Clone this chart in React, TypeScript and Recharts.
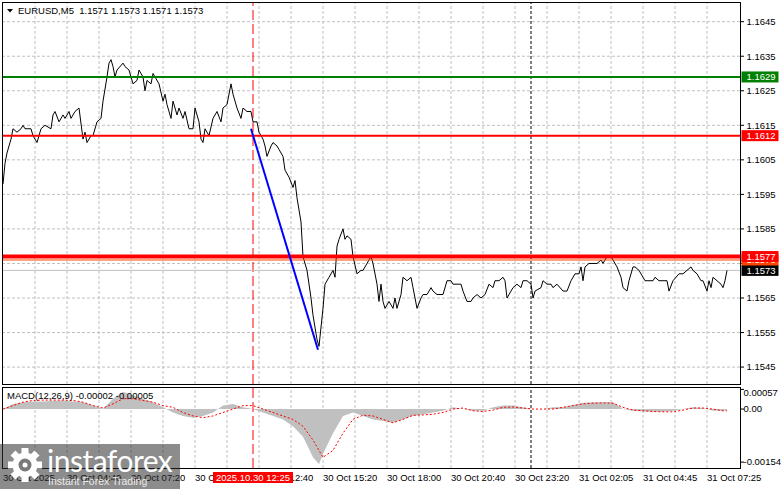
import React from 'react';
import { ComposedChart, Line, Area, XAxis, YAxis, ReferenceLine } from 'recharts';

// EURUSD M5 with MACD(12,26,9) sub-window, MT4 style

const symbolTitle = 'EURUSD,M5  1.1571 1.1573 1.1571 1.1573';
const macdTitle = 'MACD(12,26,9) -0.00002 -0.00005';

// bar index (5 min bars, 0 = first bar on screen) and close price
const priceBar = [
  0, 1, 2, 4, 5, 7, 9, 10, 11, 14, 15, 17, 19, 21, 24, 25, 26, 28, 30, 31, 33, 34, 36, 38, 40, 41, 42, 44, 45, 47, 49,
  50, 52, 53, 54, 55, 56, 57, 60, 61, 63, 65, 67, 68, 70, 71, 72, 74, 75, 76, 78, 80, 81, 82, 84, 85, 87, 88, 90, 91, 93, 95, 96, 98, 99,
  100, 101, 103, 105, 107, 109, 110, 112, 114, 115, 117, 119, 120, 122, 124, 125, 127, 128, 130, 131, 132, 134, 135, 137, 138, 140, 141, 143, 145, 146, 147, 149,
  150, 152, 154, 155, 157, 158, 160, 161, 163, 165, 166, 167, 168, 170, 171, 172, 174, 175, 177, 179, 180, 182, 184, 185, 187, 188, 189, 190, 191, 193, 195, 196, 197, 199,
  200, 202, 204, 205, 206, 207, 209, 210, 212, 214, 215, 217, 220, 222, 224, 225, 227, 229, 230, 232, 234, 235, 237, 239, 241, 243, 245, 246, 248,
  250, 251, 252, 254, 255, 257, 259, 260, 262, 264, 265, 266, 269, 270, 272, 274, 275, 277, 280, 282, 284, 286, 288, 289, 290, 291, 293, 295, 297, 299,
  300, 302, 304, 305, 307, 309, 310, 312, 313, 315, 316, 318, 320, 321, 323, 325, 326, 328, 330, 332, 333, 335, 338, 340, 342, 344, 345, 347, 349,
  350, 352, 353, 354, 355, 357, 359, 360, 361, 362,
];
const priceClose = [
  1.1598, 1.1604, 1.1607, 1.1611, 1.1614, 1.1613, 1.1614, 1.1615, 1.1614, 1.1614, 1.1612, 1.161, 1.1614, 1.1615, 1.1614, 1.1618, 1.1619, 1.1616, 1.1618, 1.1617, 1.1619, 1.1617, 1.1619, 1.162, 1.1611, 1.1613, 1.161, 1.1612, 1.1612, 1.1616, 1.1617,
  1.1622, 1.1629, 1.1633, 1.1634, 1.1632, 1.1629, 1.1631, 1.1633, 1.1632, 1.1631, 1.1627, 1.1628, 1.1631, 1.1629, 1.1625, 1.1628, 1.1627, 1.163, 1.1629, 1.1627, 1.1622, 1.1624, 1.1621, 1.1617, 1.1622, 1.1618, 1.162, 1.1617, 1.1619, 1.1614, 1.1614, 1.162, 1.1616, 1.1611,
  1.161, 1.1614, 1.1612, 1.1617, 1.1619, 1.1616, 1.162, 1.1621, 1.1627, 1.1624, 1.162, 1.1617, 1.162, 1.1619, 1.1619, 1.1616, 1.1616, 1.1613, 1.1611, 1.1609, 1.1606, 1.1609, 1.161, 1.1609, 1.1608, 1.1606, 1.1602, 1.16, 1.1597, 1.1599, 1.1594, 1.1587,
  1.1577, 1.1573, 1.1565, 1.156, 1.1553, 1.1551, 1.1562, 1.1569, 1.1571, 1.1573, 1.1571, 1.158, 1.1582, 1.1585, 1.1582, 1.1583, 1.1582, 1.1577, 1.1572, 1.1573, 1.1573, 1.1575, 1.1577, 1.1575, 1.1569, 1.1564, 1.1569, 1.1564, 1.1562, 1.1564, 1.1562, 1.1565, 1.1562, 1.1566,
  1.1571, 1.157, 1.1571, 1.1568, 1.1565, 1.1562, 1.1565, 1.1566, 1.1566, 1.1568, 1.1567, 1.1566, 1.1566, 1.157, 1.157, 1.1569, 1.1569, 1.1569, 1.1567, 1.1564, 1.1564, 1.1565, 1.1566, 1.1565, 1.1566, 1.1569, 1.1568, 1.157, 1.157,
  1.1571, 1.157, 1.1565, 1.1567, 1.1568, 1.1569, 1.1568, 1.157, 1.157, 1.1569, 1.1565, 1.1567, 1.1568, 1.157, 1.1569, 1.1569, 1.1568, 1.1569, 1.1567, 1.1567, 1.157, 1.1572, 1.1572, 1.1574, 1.157, 1.1574, 1.1575, 1.1575, 1.1575, 1.1576,
  1.1575, 1.1577, 1.1577, 1.1576, 1.1574, 1.1571, 1.1568, 1.1567, 1.157, 1.1574, 1.1574, 1.1573, 1.1571, 1.157, 1.157, 1.157, 1.1571, 1.157, 1.157, 1.157, 1.1567, 1.157, 1.1572, 1.1572, 1.1573, 1.1574, 1.1573, 1.1572, 1.157,
  1.157, 1.1567, 1.157, 1.1568, 1.1571, 1.157, 1.1569, 1.1568, 1.157, 1.1573,
];

const priceTicks = [1.1545, 1.1555, 1.1565, 1.1575, 1.1585, 1.1595, 1.1605, 1.1615, 1.1625, 1.1635, 1.1645];
const gridBars = [16, 32, 48, 64, 80, 96, 112, 128, 144, 160, 176, 192, 208, 224, 240, 256, 272, 288, 304, 320, 336, 352];

// horizontal levels (drawn in this order)
const levelPrices = [1.1629, 1.1612, 1.1576, 1.1577];
const levelColors = ['#008000', '#ff0000', '#ff4500', '#ff0000'];
const levelWidths = [2, 2, 1, 4];
const bidPrice = 1.1573;

// blue trend line
const trendBars = [124, 157.5];
const trendPrices = [1.1614, 1.1550];

const markerBar = 125;
const markerLabel = '2025.10.30 12:25';
const dayBreakBar = 264;

const timeBars = [0, 32, 64, 96, 128, 160, 192, 224, 256, 288, 320, 352];
const timeLabels = [
  '30 Oct 2025', '30 Oct 04:40', '30 Oct 07:20', '30 Oct 10:00', '30 Oct 12:40', '30 Oct 15:20',
  '30 Oct 18:00', '30 Oct 20:40', '30 Oct 23:20', '31 Oct 02:05', '31 Oct 04:45', '31 Oct 07:25',
];

// MACD sub window
const macdBar = [
  0, 5, 10, 15, 20, 25, 30, 35, 40, 45, 50, 55, 60, 65, 70, 75, 80, 85, 90, 95, 100, 105, 110, 115, 120, 125, 130, 135, 140, 145, 150, 155, 158,
  160, 165, 170, 175, 180, 185, 190, 195, 200, 205, 210, 215, 220, 225, 230, 235, 240, 245, 250, 255, 260, 265, 270, 275, 280, 285, 290, 295,
  300, 305, 310, 315, 320, 325, 330, 335, 340, 345, 350, 355, 360, 362,
];
const macdHist = [
  0, 0.00015, 0.0002, 0.00022, 0.00022, 0.00024, 0.00025, 0.00022, 0.0002, 0.0001, 0, 0.0003, 0.0005, 0.0004, 0.0003, 0.0002, 0.00005, -0.0001, -0.0002, -0.00025,
  -0.0002, -0.0001, 0.0001, 0.00015, 0.00005, 0, -0.0001, -0.0002, -0.0003, -0.0005, -0.0008, -0.0014, -0.0016,
  -0.0013, -0.0007, -0.0002, -0.0001, -0.0002, -0.0003, -0.00035, -0.0004, -0.0003, -0.0002, -0.00015, -0.0001, -0.00005, 0.00005, 0, -0.00005, -0.00005, 0.00005,
  0.0001, 0.0001, 0.00005, 0, 0, 0.00005, 0.00005, 0.00012, 0.00018, 0.0002,
  0.0002, 0.0002, 0, -0.00005, -0.00007, -0.00008, -0.00008, -0.00005, 0, 0.00005, 0.00003, -0.00005, -0.00005, -0.00002,
];
const macdSignal = [
  0, 0.0001, 0.0002, 0.00025, 0.00026, 0.00026, 0.00026, 0.00025, 0.0002, 0.0001, 0.00003, 0.00015, 0.0003, 0.0003, 0.00025, 0.0002, 0.0001, 0.00005, -0.0001, -0.0002,
  -0.00025, -0.0002, -0.0001, 0, 0.0001, 0.0001, 0, -0.0001, -0.0002, -0.0003, -0.0005, -0.0009, -0.0012,
  -0.0014, -0.0012, -0.0007, -0.0003, -0.00018, -0.0002, -0.0003, -0.0004, -0.0003, -0.00018, -0.00017, -0.00015, -0.0001, 0, 0.00003, -0.00005, -0.00007, -0.00003,
  0.00005, 0.00006, 0.00003, 0, 0, 0, 0.00005, 0.0001, 0.00015, 0.00017,
  0.00018, 0.00017, 0.00005, -0.00003, -0.00005, -0.00007, -0.00008, -0.00008, -0.00003, 0.00003, 0.00003, 0, -0.00005, -0.00005,
];
const macdTicks = [0.00057, 0, -0.00154];
const macdTickLabels = ['0.00057', '0.00', '-0.00154'];

const FONT = '"Liberation Sans", Arial, Helvetica, sans-serif';
const FS = 9.5;
const GRID = '#c0c0c0';

const priceRows = priceBar.map((b, i) => ({ bar: b, close: priceClose[i] }));
const macdRows = macdBar.map((b, i) => ({ bar: b, hist: macdHist[i], signal: macdSignal[i] }));

const PriceTick = (props: any) => {
  const { x, y, payload } = props;
  const v: number = payload.value;
  const li = levelPrices.indexOf(v);
  const txt = v.toFixed(4);
  if (li >= 0 || v === bidPrice) {
    const fill = li >= 0 ? levelColors[li] : '#000000';
    return (
      <g>
        <rect x={x + 1.5} y={y - 5.5} width={37} height={11} fill={fill} />
        <text x={x + 6.5} y={y} dy="0.36em" fill="#ffffff" fontSize={FS} fontFamily={FONT}>{txt}</text>
      </g>
    );
  }
  return (
    <g>
      <line x1={x} x2={x + 4} y1={y} y2={y} stroke="#000" />
      <text x={x + 6.5} y={y} dy="0.36em" fill="#000" fontSize={FS} fontFamily={FONT}>{txt}</text>
    </g>
  );
};

// MT4 keeps the top/bottom labels of a sub window inside the panel
const MacdTick = (props: any) => {
  const { x, y, payload } = props;
  const i = macdTicks.indexOf(payload.value);
  const ty = Math.min(Math.max(y, 6), 75);
  return (
    <g>
      <line x1={x} x2={x + 4} y1={y} y2={y} stroke="#000" />
      <text x={x + 3.5} y={ty} dy="0.36em" fill="#000" fontSize={FS} fontFamily={FONT}>{macdTickLabels[i]}</text>
    </g>
  );
};

const TimeTick = (props: any) => {
  const { x, y, payload } = props;
  const v: number = payload.value;
  if (v === markerBar) {
    return (
      <g>
        <rect x={x - 40} y={y + 4} width={80} height={11} fill="#ff0000" />
        <text x={x} y={y + 9.5} dy="0.36em" textAnchor="middle" fill="#fff" fontSize={FS} fontFamily={FONT}>{markerLabel}</text>
      </g>
    );
  }
  const i = timeBars.indexOf(v);
  return (
    <text x={x} y={y + 9.5} dy="0.36em" fill="#000" fontSize={FS} fontFamily={FONT}>{timeLabels[i]}</text>
  );
};

export default function App() {
  return (
    <div style={{ position: 'absolute', left: 0, top: 0, width: 781, height: 489, background: '#fff', overflow: 'hidden' }}>
      <div style={{ position: 'absolute', left: 0, top: 0 }}>
        <ComposedChart width={781} height={386} data={priceRows} margin={{ top: 2, right: 0, bottom: 2, left: 3 }}>
          <XAxis type="number" dataKey="bar" domain={[0, 368.5]} allowDataOverflow hide />
          <YAxis
            orientation="right"
            width={41}
            domain={[1.15401, 1.16507]}
            allowDataOverflow
            ticks={[...priceTicks, bidPrice, ...levelPrices]}
            interval={0}
            tickSize={0}
            tickMargin={0}
            axisLine={false}
            tickLine={false}
            tick={<PriceTick />}
          />
          {gridBars.map((b) => (
            <ReferenceLine key={'gx' + b} x={b} stroke={GRID} strokeDasharray="3 2" />
          ))}
          {priceTicks.map((p) => (
            <ReferenceLine key={'gy' + p} y={p} stroke={GRID} strokeDasharray="3 2" />
          ))}
          <ReferenceLine x={markerBar} stroke="#ff0000" strokeDasharray="10 4" />
          <ReferenceLine x={dayBreakBar} stroke="#000" strokeDasharray="3 2" />
          <ReferenceLine y={bidPrice} stroke="#c0c0c0" />
          <Line type="linear" dataKey="close" stroke="#000" strokeWidth={1} dot={false} isAnimationActive={false} />
          {levelPrices.map((p, i) => (
            <ReferenceLine key={'lv' + p} y={p} stroke={levelColors[i]} strokeWidth={levelWidths[i]} />
          ))}
          <ReferenceLine
            segment={[
              { x: trendBars[0], y: trendPrices[0] },
              { x: trendBars[1], y: trendPrices[1] },
            ]}
            stroke="#0000ff"
            strokeWidth={2}
          />
        </ComposedChart>
      </div>

      <div style={{ position: 'absolute', left: 0, top: 387 }}>
        <ComposedChart width={781} height={102} data={macdRows} margin={{ top: 0, right: 0, bottom: 0, left: 3 }}>
          <XAxis
            type="number"
            dataKey="bar"
            domain={[0, 368.5]}
            allowDataOverflow
            height={21}
            ticks={[...timeBars, markerBar]}
            interval={0}
            tickSize={0}
            tickMargin={0}
            axisLine={false}
            tickLine={false}
            tick={<TimeTick />}
          />
          <YAxis
            orientation="right"
            width={41}
            domain={[-0.00171, 0.00064]}
            allowDataOverflow
            ticks={macdTicks}
            interval={0}
            tickSize={0}
            tickMargin={0}
            axisLine={false}
            tickLine={false}
            tick={<MacdTick />}
          />
          {gridBars.map((b) => (
            <ReferenceLine key={'mx' + b} x={b} stroke={GRID} strokeDasharray="3 2" />
          ))}
          <Area type="linear" dataKey="hist" baseValue={0} fill="#c0c0c0" fillOpacity={1} stroke="none" isAnimationActive={false} />
          <Line type="linear" dataKey="signal" stroke="#ff0000" strokeWidth={1} strokeDasharray="2 2" dot={false} isAnimationActive={false} />
          <ReferenceLine x={markerBar} stroke="#ff0000" strokeDasharray="10 4" />
          <ReferenceLine x={dayBreakBar} stroke="#000" strokeDasharray="3 2" />
        </ComposedChart>
      </div>

      <svg width={781} height={489} style={{ position: 'absolute', left: 0, top: 0, pointerEvents: 'none' }}>
        <rect x={2.5} y={2.5} width={738} height={382} fill="none" stroke="#000" />
        <rect x={2.5} y={387.5} width={738} height={81} fill="none" stroke="#000" />
        <polygon points="7,9 13,9 10,12.5" fill="#000" />
        <text x={18} y={10.5} dy="0.36em" fontSize={FS} fontFamily={FONT} fill="#000" style={{ whiteSpace: 'pre' }}>
          {symbolTitle}
        </text>
        <text x={7} y={396} dy="0.36em" fontSize={FS} fontFamily={FONT} fill="#000">
          {macdTitle}
        </text>
      </svg>

      {/* watermark */}
      <div style={{ position: 'absolute', left: 0, top: 444, width: 180, height: 45, background: 'rgba(45,45,45,0.55)' }}>
        <svg width={50} height={45} style={{ position: 'absolute', left: 0, top: 0 }}>
          <g transform="translate(25,21)">
            {[0, 45, 90, 135, 180, 225, 270, 315].map((a) => (
              <rect key={a} x={-3.5} y={-17} width={7} height={8} fill="#fff" transform={`rotate(${a})`} />
            ))}
            <circle r={12.5} fill="#fff" />
            <circle r={6.5} fill="#7a7a7a" />
            <circle r={2.5} fill="#fff" />
          </g>
        </svg>
        <div
          style={{
            position: 'absolute', left: 47, top: 1, color: '#fff', fontFamily: 'Lato, "Open Sans", sans-serif',
            fontSize: 30, lineHeight: '30px', letterSpacing: -0.5,
          }}
        >
          instaforex
        </div>
        <div
          style={{
            position: 'absolute', left: 48, top: 31, color: 'rgba(255,255,255,0.85)', fontFamily: FONT,
            fontSize: 10.5, lineHeight: '12px',
          }}
        >
          Instant Forex Trading
        </div>
      </div>
    </div>
  );
}
